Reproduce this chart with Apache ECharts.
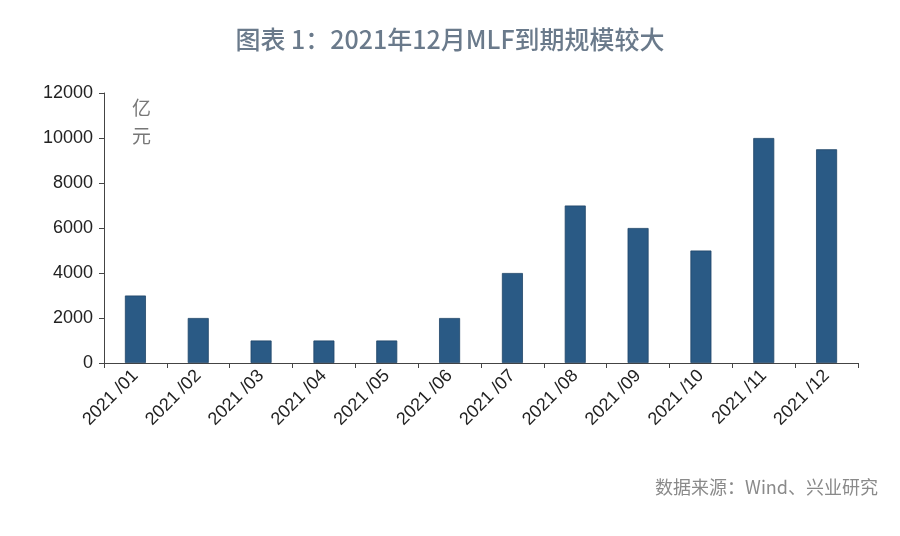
<!DOCTYPE html>
<html><head><meta charset="utf-8">
<script src="https://cdn.jsdelivr.net/npm/echarts@6/dist/echarts.min.js"></script>
<style>html,body{margin:0;padding:0;background:#fff}#c{width:900px;height:536px}</style>
</head><body><div id="c"></div>
<script>
const categories = ['2021/01','2021/02','2021/03','2021/04','2021/05','2021/06','2021/07','2021/08','2021/09','2021/10','2021/11','2021/12'];
const mlfMaturity = [3000, 2000, 1000, 1000, 1000, 2000, 4000, 7000, 6000, 5000, 10000, 9500];
const titleText = '图表 1：2021年12月MLF到期规模较大';
const unitText = '亿\n元';
const sourceText = '数据来源：Wind、兴业研究';

const chart = echarts.init(document.getElementById('c'));
chart.setOption({
  backgroundColor: '#fff',
  animation: false,
  title: [{
    text: titleText, left: 'center', top: 22,
    textStyle: {fontFamily: 'Noto Sans CJK SC', fontSize: 25, fontWeight: 500, color: '#6a7a8b'}
  }],
  graphic: [
    {type: 'text', left: 132, top: 94, style: {text: unitText, fontFamily: 'Noto Sans CJK SC', fontSize: 19, lineHeight: 28, fill: '#777'}},
    {type: 'text', right: 22, top: 478, style: {text: sourceText, fontFamily: 'Noto Sans CJK SC', fontSize: 18, fill: '#8a8a8a'}}
  ],
  grid: {left: 104, right: 42, top: 93, bottom: 173, containLabel: false},
  xAxis: {
    type: 'category', data: categories,
    axisLine: {lineStyle: {color: '#444', width: 1}},
    axisTick: {show: true, length: 5, alignWithLabel: false, lineStyle: {color: '#444'}},
    axisLabel: {rotate: 45, interval: 0, fontFamily: 'Liberation Sans', fontSize: 18, color: '#222', margin: 10,
      formatter: v => v.replace('/', ' /')}
  },
  yAxis: {
    type: 'value', min: 0, max: 12000, interval: 2000,
    axisLine: {show: true, lineStyle: {color: '#444', width: 1}},
    axisTick: {show: true, inside: false, length: 5, lineStyle: {color: '#444'}},
    splitLine: {show: false},
    axisLabel: {fontFamily: 'Liberation Sans', fontSize: 18, color: '#222', margin: 11, formatter: v => String(v)}
  },
  series: [{
    type: 'bar', data: mlfMaturity, barWidth: 21,
    itemStyle: {color: '#2a5a85', borderColor: '#1f4568', borderWidth: 0.8}
  }]
});
</script></body></html>
